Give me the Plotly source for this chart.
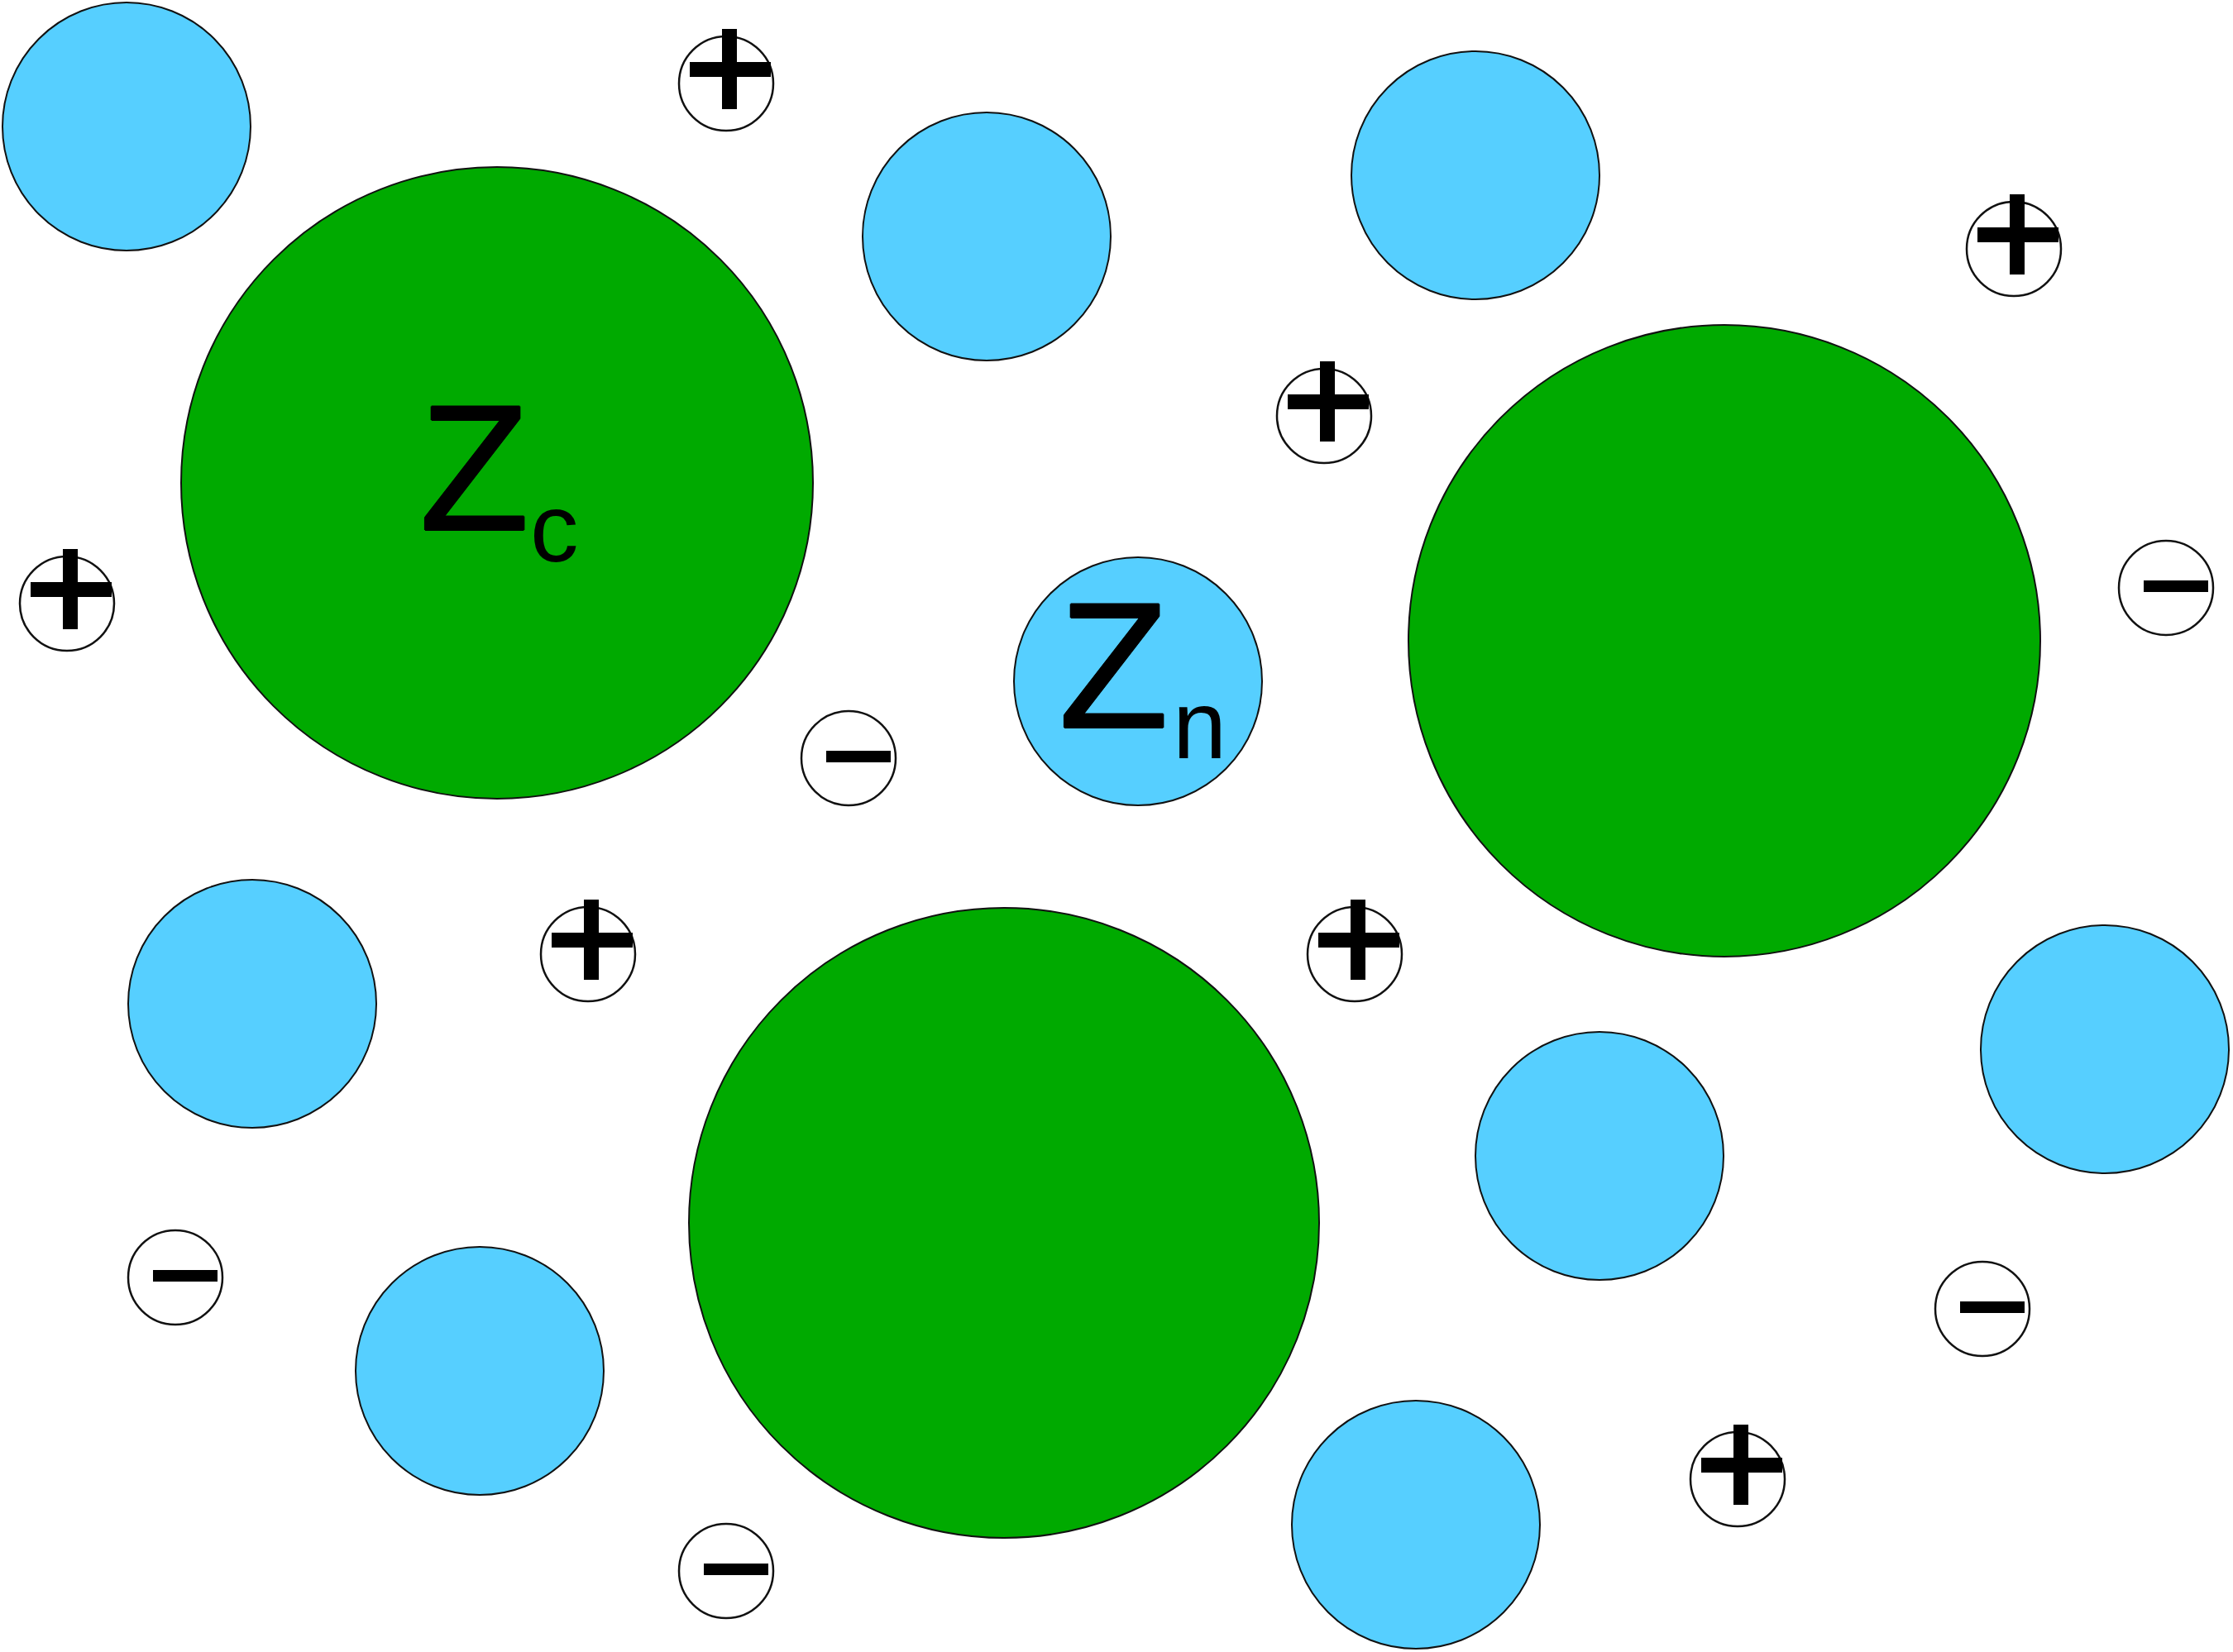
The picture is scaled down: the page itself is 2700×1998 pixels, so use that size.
import plotly.graph_objects as go

W, H = 2700, 1998

# Large colloid particles (charge Zc)
green_x = [601, 2085, 1214]
green_y = [584, 775, 1479]
green_r = [382, 382, 381]

# Nanoparticles (charge Zn)
blue_x = [153, 1193, 1784, 1376, 305, 1934, 2545, 580, 1712]
blue_y = [153, 286, 212, 824, 1214, 1398, 1269, 1658, 1844]
blue_r = [150, 150, 150, 150, 150, 150, 150, 150, 150]

# Small ions
plus_x = [878, 2435, 1601, 81, 711, 1638, 2101]
plus_y = [101, 301, 503, 730, 1154, 1154, 1789]
minus_x = [1026, 2619, 212, 2397, 878]
minus_y = [917, 711, 1545, 1583, 1900]
ion_r = 57

# Labels
label_main = ["Z", "Z"]
label_sub = ["c", "n"]
label_main_x = [573, 1346]
label_main_y = [565, 804]
label_sub_x = [670, 1450]
label_sub_y = [638, 876]

GREEN = "#00AA00"
BLUE = "#56CFFF"

shapes = []
for cx, cy, r in zip(green_x, green_y, green_r):
    shapes.append(dict(type="circle", xref="x", yref="y", x0=cx - r, x1=cx + r,
                       y0=cy - r, y1=cy + r, fillcolor=GREEN,
                       line=dict(color="#111111", width=2)))
for cx, cy, r in zip(blue_x, blue_y, blue_r):
    shapes.append(dict(type="circle", xref="x", yref="y", x0=cx - r, x1=cx + r,
                       y0=cy - r, y1=cy + r, fillcolor=BLUE,
                       line=dict(color="#111111", width=2)))
for cx, cy in list(zip(plus_x, plus_y)) + list(zip(minus_x, minus_y)):
    shapes.append(dict(type="circle", xref="x", yref="y", x0=cx - ion_r, x1=cx + ion_r,
                       y0=cy - ion_r, y1=cy + ion_r, fillcolor="white",
                       line=dict(color="#111111", width=2.5)))
for cx, cy in zip(plus_x, plus_y):
    shapes.append(dict(type="line", xref="x", yref="y", x0=cx + 4, x1=cx + 4,
                       y0=cy - 66, y1=cy + 31, line=dict(color="black", width=18)))
    shapes.append(dict(type="line", xref="x", yref="y", x0=cx - 44, x1=cx + 54,
                       y0=cy - 17, y1=cy - 17, line=dict(color="black", width=18)))
for cx, cy in zip(minus_x, minus_y):
    shapes.append(dict(type="line", xref="x", yref="y", x0=cx - 27, x1=cx + 51,
                       y0=cy - 2, y1=cy - 2, line=dict(color="black", width=14)))

THICK_MAIN = "1px 0 0 black, -1px 0 0 black, 0 1px 0 black, 0 -1px 0 black"

annotations = []
for t, x, y in zip(label_main, label_main_x, label_main_y):
    annotations.append(dict(text=t, x=x, y=y, xref="x", yref="y", showarrow=False,
                            xanchor="center", yanchor="middle",
                            font=dict(family="Liberation Sans, Arial", size=218, color="black",
                                      shadow=THICK_MAIN)))
for t, x, y in zip(label_sub, label_sub_x, label_sub_y):
    annotations.append(dict(text=t, x=x, y=y, xref="x", yref="y", showarrow=False,
                            xanchor="center", yanchor="middle",
                            font=dict(family="Liberation Sans, Arial", size=117, color="black")))

fig = go.Figure()
fig.add_trace(go.Scatter(x=[0, W], y=[0, H], mode="markers",
                         marker=dict(opacity=0), hoverinfo="skip", showlegend=False))
fig.update_layout(
    width=W, height=H, margin=dict(l=0, r=0, t=0, b=0),
    paper_bgcolor="white", plot_bgcolor="white",
    xaxis=dict(range=[0, W], visible=False, fixedrange=True),
    yaxis=dict(range=[H, 0], visible=False, fixedrange=True),
    shapes=shapes, annotations=annotations, showlegend=False,
)
fig.write_html("out.html", config={"displayModeBar": False},
               post_script="document.body.style.margin='0';document.body.style.overflow='hidden';")
